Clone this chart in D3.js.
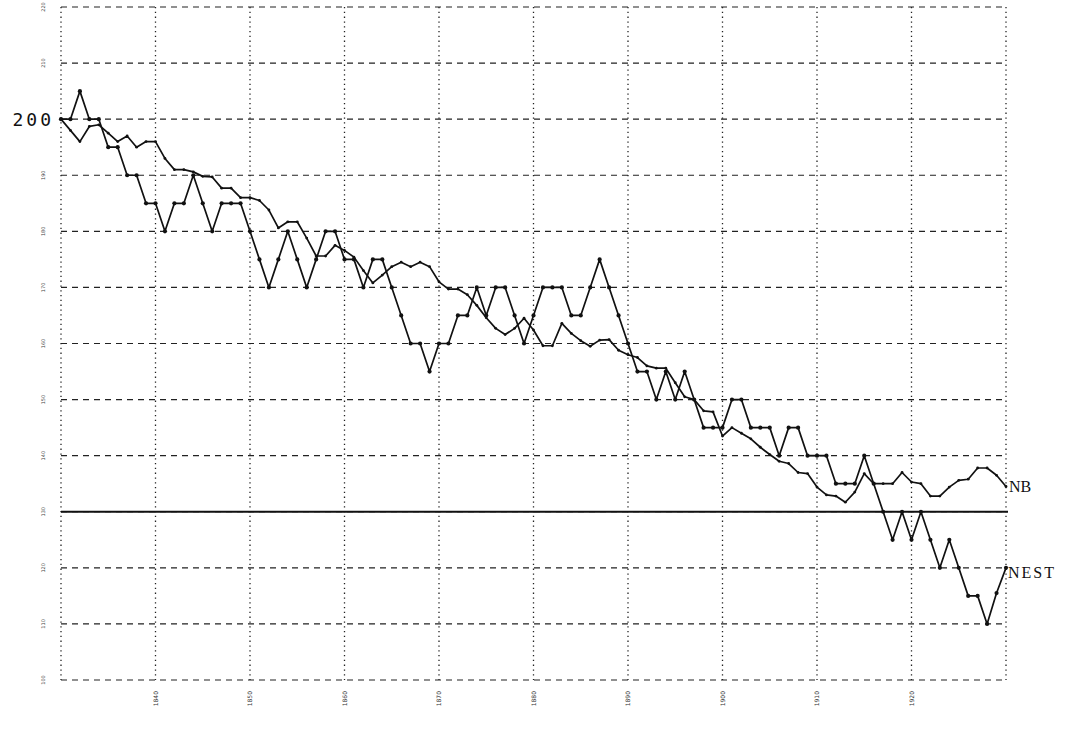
<!DOCTYPE html>
<html>
<head>
<meta charset="utf-8">
<script src="https://cdn.jsdelivr.net/npm/d3@7"></script>
<style>
  body { margin: 0; background: #fff; }
  svg { display: block; }
</style>
</head>
<body>
<div id="chart"></div>
<script>
// step index runs 0..100, one point per step, grid every 10 steps
var xGridSteps = [0, 10, 20, 30, 40, 50, 60, 70, 80, 90, 100];
var xTickSteps = [10, 20, 30, 40, 50, 60, 70, 80, 90];
var xTickLabels = ["1840", "1850", "1860", "1870", "1880", "1890", "1900", "1910", "1920"];

var yGridValues = [100, 110, 120, 130, 140, 150, 160, 170, 180, 190, 200, 210, 220];
var yTickLabels = ["100", "110", "120", "130", "140", "150", "160", "170", "180", "190", "200", "210", "220"];
var refLevel = 130;

var nest = [200, 200, 205, 200, 200, 195, 195, 190, 190, 185, 185, 180, 185, 185, 190, 185, 180, 185, 185, 185, 180,
  175, 170, 175, 180, 175, 170, 175, 180, 180, 175, 175, 170, 175, 175, 170, 165, 160, 160, 155, 160, 160,
  165, 165, 170, 165, 170, 170, 165, 160, 165, 170, 170, 170, 165, 165, 170, 175, 170, 165,
  160, 155, 155, 150, 155, 150, 155, 150, 145, 145, 145, 150, 150, 145, 145, 145, 140, 145, 145, 140, 140,
  140, 135, 135, 135, 140, 135, 130, 125, 130, 125, 130, 125, 120, 125, 120, 115, 115, 110, 115.5, 120];

var nb = [200, 198, 196, 198.7, 199, 197.5, 196, 197, 195, 196, 196, 193, 191, 191, 190.6, 189.8, 189.7, 187.7, 187.7, 186, 186,
  185.5, 183.8, 180.6, 181.7, 181.7, 178.8, 175.6, 175.6, 177.5, 176.6, 175.4, 173, 170.8, 172.2, 173.7, 174.5, 173.7, 174.5, 173.7, 171, 169.7,
  169.7, 168.7, 166.8, 164.6, 162.7, 161.6, 162.7, 164.5, 162.4, 159.6, 159.6, 163.6, 161.8, 160.5, 159.5, 160.6, 160.7, 158.8,
  158, 157.5, 156, 155.6, 155.6, 153, 150.5, 150, 148, 147.8, 143.5, 145, 144, 143, 141.5, 140.2, 139, 138.6, 137, 136.8, 134.4,
  133, 132.8, 131.7, 133.5, 136.8, 135, 135, 135, 137, 135.3, 135, 132.8, 132.8, 134.4, 135.6, 135.8, 137.8, 137.8, 136.5, 134.5];

var svgWidth = 1082;
var svgHeight = 729;

var margin = { top: 7, right: 76, bottom: 49, left: 61 };
var width = svgWidth - margin.left - margin.right;
var height = svgHeight - margin.top - margin.bottom;

var svg = d3.select("#chart")
  .append("svg")
  .attr("width", svgWidth)
  .attr("height", svgHeight);

var chartGroup = svg.append("g")
  .attr("transform", `translate(${margin.left}, ${margin.top})`);

var xScale = d3.scaleLinear().domain([0, 100]).range([0, width]);
var yScale = d3.scaleLinear().domain([100, 220]).range([height, 0]);

var ink = "#111";

// horizontal dashed grid
chartGroup.append("g")
  .selectAll("line")
  .data(yGridValues)
  .enter()
  .append("line")
  .attr("x1", 0)
  .attr("x2", width)
  .attr("y1", d => yScale(d))
  .attr("y2", d => yScale(d))
  .attr("stroke", "#222")
  .attr("stroke-width", 1.2)
  .attr("stroke-dasharray", "6,5");

// vertical dotted grid
chartGroup.append("g")
  .selectAll("line")
  .data(xGridSteps)
  .enter()
  .append("line")
  .attr("x1", d => xScale(d))
  .attr("x2", d => xScale(d))
  .attr("y1", 0)
  .attr("y2", height)
  .attr("stroke", "#222")
  .attr("stroke-width", 1.3)
  .attr("stroke-dasharray", "1.3,3.5");

// solid reference line
chartGroup.append("line")
  .attr("x1", 0)
  .attr("x2", width + 2)
  .attr("y1", yScale(refLevel))
  .attr("y2", yScale(refLevel))
  .attr("stroke", ink)
  .attr("stroke-width", 2);

// y tick labels: only 200 is printed large, the rest are tiny
chartGroup.append("g")
  .selectAll("text")
  .data(yGridValues.filter(d => d !== 200))
  .enter()
  .append("text")
  .attr("transform", d => `translate(-16, ${yScale(d)}) rotate(-90)`)
  .attr("text-anchor", "middle")
  .attr("font-family", "DejaVu Sans")
  .attr("font-size", 5)
  .attr("fill", "#444")
  .text(d => yTickLabels[yGridValues.indexOf(d)]);

chartGroup.append("text")
  .attr("x", -7)
  .attr("y", yScale(200) + 7)
  .attr("text-anchor", "end")
  .attr("font-family", "DejaVu Sans Mono")
  .attr("font-size", 18)
  .attr("letter-spacing", 3)
  .attr("fill", ink)
  .text(yTickLabels[yGridValues.indexOf(200)]);

// x tick labels, rotated
chartGroup.append("g")
  .selectAll("text")
  .data(xTickSteps)
  .enter()
  .append("text")
  .attr("transform", (d, i) => `translate(${xScale(d) + 2}, ${height + 11}) rotate(-90)`)
  .attr("text-anchor", "end")
  .attr("font-family", "DejaVu Sans")
  .attr("font-size", 6)
  .attr("fill", "#333")
  .text((d, i) => xTickLabels[i]);

var line = d3.line()
  .x((d, i) => xScale(i))
  .y(d => yScale(d));

function drawSeries(values, r) {
  var g = chartGroup.append("g");
  g.append("path")
    .datum(values)
    .attr("d", line)
    .attr("fill", "none")
    .attr("stroke", ink)
    .attr("stroke-width", 1.7)
    .attr("stroke-linejoin", "round");
  g.selectAll("circle")
    .data(values)
    .enter()
    .append("circle")
    .attr("cx", (d, i) => xScale(i))
    .attr("cy", d => yScale(d))
    .attr("r", r)
    .attr("fill", ink);
}

drawSeries(nb, 1.4);
drawSeries(nest, 2.1);

// series labels at the right end
chartGroup.append("text")
  .attr("x", xScale(100) + 3)
  .attr("y", yScale(nb[nb.length - 1]) + 5)
  .attr("font-family", "Liberation Serif")
  .attr("font-size", 16)
  .attr("fill", ink)
  .text("NB");

chartGroup.append("text")
  .attr("x", xScale(100) + 2)
  .attr("y", yScale(nest[nest.length - 1]) + 10)
  .attr("font-family", "Liberation Serif")
  .attr("font-size", 16)
  .attr("letter-spacing", 2)
  .attr("fill", ink)
  .text("NEST");
</script>
</body>
</html>
